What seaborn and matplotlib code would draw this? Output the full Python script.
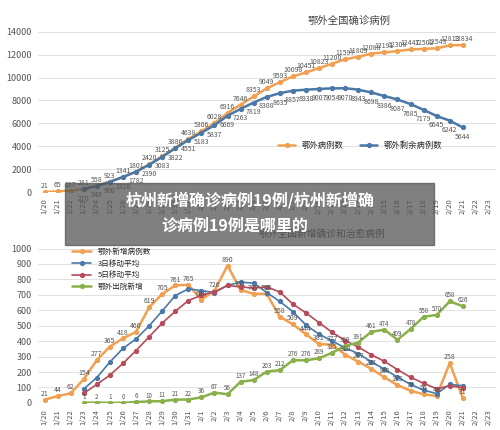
import numpy as np
import pandas as pd
import matplotlib
matplotlib.use('Agg')
import matplotlib.pyplot as plt
import seaborn as sns

sns.set_style('whitegrid')
plt.rcParams['font.family'] = ['Noto Sans CJK SC', 'DejaVu Sans']

dates = ['1/20', '1/21', '1/22', '1/23', '1/24', '1/25', '1/26', '1/27', '1/28', '1/29', '1/30', '1/31',
         '2/1', '2/2', '2/3', '2/4', '2/5', '2/6', '2/7', '2/8', '2/9', '2/10', '2/11', '2/12', '2/13',
         '2/14', '2/15', '2/16', '2/17', '2/18', '2/19', '2/20', '2/21', '2/22', '2/23']

# top chart
total = [21, 65, 127, 281, 558, 923, 1341, 1801, 2420, 3125, 3886, 4638, 5306, 6028, 6916, 7646, 8353,
         9049, 9593, 10098, 10451, 10823, 11200, 11597, 11809, 12088, 12191, 12308, 12447, 12502, 12543,
         12813, 12834]
remain = [270, 540, 900, 1320, 1782, 2390, 3083, 3822, 4551, 5183, 5837, 6669, 7263, 7819, 8308, 8635,
          8857, 8938, 9007, 9054, 9070, 8943, 8698, 8386, 8087, 7685, 7179, 6645, 6242, 5644]

# bottom chart
new_cases = [21, 44, 62, 154, 277, 365, 418, 460, 619, 705, 761, 765, 668, 726, 890, 731, 707, 706, 558,
             509, 444, 381, 377, 312, 267, 221, 166, 115, 79, 56, 45, 258, 31]
ma3 = [90, 164, 265, 353, 414, 499, 595, 695, 739, 727, 715, 761, 782, 776, 715, 657, 591, 504, 445, 401,
       357, 319, 267, 218, 167, 120, 83, 60, 120, 111]
ma5 = [62, 120, 180, 256, 339, 428, 517, 593, 663, 697, 720, 761, 751, 744, 752, 718, 640, 583, 520, 457,
       404, 362, 312, 269, 216, 166, 127, 92, 111, 98]
cured = [1, 2, 1, 0, 6, 10, 11, 21, 22, 36, 67, 56, 137, 148, 203, 212, 276, 276, 289, 325, 369, 391, 461,
         474, 409, 478, 558, 570, 658, 626]

orange = '#f0a050'
blue = '#4a78a8'
red = '#b84a5a'
green = '#8ab04a'

fig = plt.figure(figsize=(5, 4.3), dpi=100)
ax1 = fig.add_axes([0.076, 0.553, 0.915, 0.40])
ax2 = fig.add_axes([0.076, 0.063, 0.915, 0.377])

x = np.arange(len(dates))


def style(ax, ymax, step):
    ax.set_xlim(-0.5, len(dates) - 0.5)
    ax.set_ylim(0, ymax)
    ax.set_yticks(np.arange(0, ymax + 1, step))
    ax.set_xticks(x)
    ax.set_xticklabels(dates, rotation=90, fontsize=5.5, color='#555555')
    ax.tick_params(axis='y', labelsize=6.5, colors='#555555', pad=1)
    ax.tick_params(axis='x', pad=1)
    ax.grid(axis='x', visible=False)
    ax.grid(axis='y', color='#dddddd', lw=0.6)
    for s in ax.spines.values():
        s.set_visible(False)


sns.lineplot(x=x[:len(total)], y=total, ax=ax1, color=orange, marker='o', ms=3, mec=orange, lw=1.8,
             label='鄂外病例数')
sns.lineplot(x=x[3:3 + len(remain)], y=remain, ax=ax1, color=blue, marker='o', ms=3, mec=blue, lw=1.8,
             label='鄂外剩余病例数')
style(ax1, 15000, 2000)
ax1.set_yticks(np.arange(0, 14001, 2000))
for i, v in enumerate(total):
    ax1.text(i, v + 350, str(v), fontsize=5, color='#555555', ha='center')
for i, v in enumerate(remain):
    ax1.text(i + 3, v - 1000, str(v), fontsize=5, color='#555555', ha='center')
ax1.set_title('鄂外全国确诊病例', fontsize=7.5, color='#444444', x=0.68, y=0.93)
ax1.legend(loc='lower right', bbox_to_anchor=(0.9, 0.2), ncol=2, frameon=False, fontsize=6)

sns.lineplot(x=x[:len(new_cases)], y=new_cases, ax=ax2, color=orange, marker='o', ms=3, mec=orange,
             lw=1.8, label='鄂外新增病例数')
sns.lineplot(x=x[3:3 + len(ma3)], y=ma3, ax=ax2, color=blue, marker='o', ms=3, mec=blue, lw=1.2,
             label='3日移动平均')
sns.lineplot(x=x[3:3 + len(ma5)], y=ma5, ax=ax2, color=red, marker='o', ms=3, mec=red, lw=1.2,
             label='5日移动平均')
sns.lineplot(x=x[3:3 + len(cured)], y=cured, ax=ax2, color=green, marker='o', ms=3, mec=green, lw=1.8,
             label='鄂外出院新增')
style(ax2, 1050, 100)
ax2.set_yticks(np.arange(0, 1001, 100))
for i, v in enumerate(new_cases):
    ax2.text(i, v + 25, str(v), fontsize=5, color='#555555', ha='center')
for i, v in enumerate(cured):
    ax2.text(i + 3, v + 25, str(v), fontsize=4.5, color='#555555', ha='center')
ax2.set_title('鄂外全国新增确诊和治愈病例', fontsize=7, color='#444444', x=0.62, y=0.97)
ax2.legend(loc='upper left', bbox_to_anchor=(0.06, 1.0), frameon=False, fontsize=5.5, handlelength=2.5)

# overlay banner
fig.patches.append(plt.Rectangle((0.13, 0.43), 0.737, 0.145, transform=fig.transFigure,
                                 color='#555555', alpha=0.75, zorder=10))
fig.text(0.5, 0.534, '杭州新增确诊病例19例/杭州新增确', fontsize=11.5, weight='bold', color='white',
         ha='center', va='center', zorder=11)
fig.text(0.47, 0.475, '诊病例19例是哪里的', fontsize=11.5, weight='bold', color='white',
         ha='center', va='center', zorder=11)

fig.savefig('out.png', dpi=100)
